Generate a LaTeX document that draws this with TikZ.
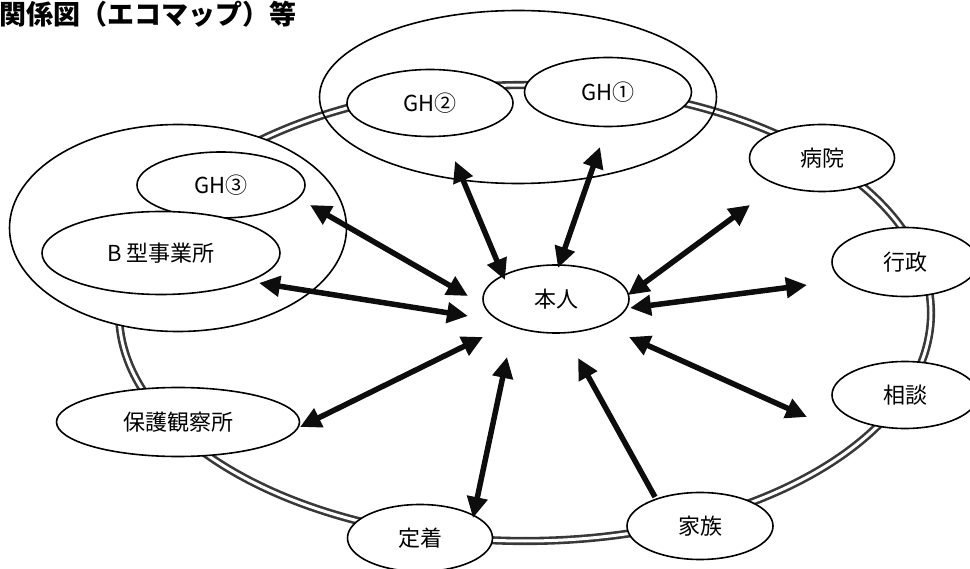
\documentclass[tikz,border=0pt]{standalone}
\usepackage{fontspec}
\newfontfamily\jpfont{Noto Sans CJK JP}
\usetikzlibrary{calc}
\usetikzlibrary{shapes.geometric}
\usetikzlibrary{arrows.meta}
\tikzset{every node/.style={align=center,
           font=\jpfont\fontsize{22}{26}\selectfont},
         party/.style={ % one person or service on the map
           ellipse, draw, line width=1.6pt, fill=white, inner sep=0pt,
           minimum width=146pt, minimum height=67pt},
         group/.style={ellipse, draw, line width=1.6pt, inner sep=0pt},
         ring/.style={draw=black!78, line width=2.6pt,
           double=white, double distance=3pt},
         link/.style={ % two-way relation
           draw=black!95, line width=5.5pt,
           {Triangle[length=21pt,width=20pt]}-{Triangle[length=21pt,width=20pt]}},
         oneway/.style={draw=black!95, line width=5.5pt,
           -{Triangle[length=21pt,width=20pt]}}}

\begin{document}
\begin{tikzpicture}[x=1pt, y=-1pt]
  \useasboundingbox (0,0) rectangle (970,569);

  \coordinate (ringc) at (525,313);
  \draw[ring] (ringc) ellipse [x radius=406pt, y radius=228pt];

  \node[anchor=north west, inner sep=0pt,
    font=\jpfont\bfseries\fontsize{27}{30}\selectfont]
    (title) at (-1,1) {関係図（エコマップ）等};

  \node[group, fill=white, minimum width=337pt, minimum height=207pt] (leftgrp) at (178,228) {};
  \node[group, minimum width=397pt, minimum height=173pt] (topgrp) at (518,97) {};

  \node[party, minimum height=68pt] (hon) at (556,299) {本人};
  \node[party, minimum width=166pt] (gh2) at (430,103) {GH②};
  \node[party, minimum width=167pt, minimum height=69pt] (gh1) at (608,92) {GH①};
  \node[party, minimum width=168pt, minimum height=66pt] (gh3) at (221,185) {GH③};
  \node[party, minimum width=238pt, minimum height=83pt] (btype) at (161,253) {B 型事業所};
  \node[party, minimum width=145pt] (byoin) at (822,158) {病院};
  \node[party, minimum height=69pt] (gyosei) at (905,262) {行政};
  \node[party] (sodan) at (905,395) {相談};
  \node[party] (kazoku) at (700,526) {家族};
  \node[party, minimum width=145pt] (teichaku) at (420,538) {定着};
  \node[party, minimum width=243pt, minimum height=69pt] (hogo) at (178,422) {保護観察所};

  \draw[link] ($(gh2)+(25,58)$) -- ($(hon)+(-51,-19)$);
  \draw[link] ($(gh1)+(-8,55)$) -- ($(hon)+(2,-31)$);
  \draw[link] ($(gh3)+(89,20)$) -- ($(hon)+(-88,-3)$);
  \draw[link] ($(btype)+(98,30)$) -- ($(hon)+(-88,17)$);
  \draw[link] ($(byoin)+(-72,47)$) -- ($(hon)+(72,-4)$);
  \draw[link] ($(gyosei)+(-98,23)$) -- ($(hon)+(74,9)$);
  \draw[link] ($(sodan)+(-98,22)$) -- ($(hon)+(73,38)$);
  \draw[link] ($(hogo)+(122,5)$) -- ($(hon)+(-73,38)$);
  \draw[link] ($(teichaku)+(53,-20)$) -- ($(hon)+(-49,58)$);
  \draw[oneway] ($(kazoku)+(-45,-29)$) -- ($(hon)+(22,59)$);
\end{tikzpicture}
\end{document}
